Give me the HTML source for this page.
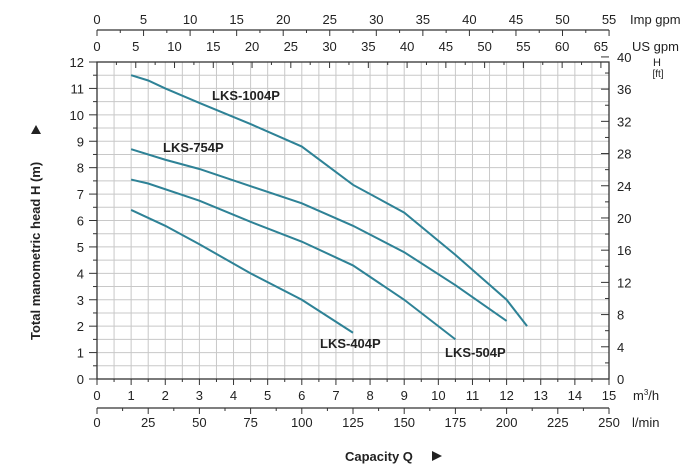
<!DOCTYPE html>
<html><head><meta charset="utf-8"><style>
html,body{margin:0;padding:0;background:#fff;width:700px;height:468px;overflow:hidden}
svg{display:block;font-family:"Liberation Sans",Arial,sans-serif}
</style></head><body>
<svg id="s" width="700" height="468" viewBox="0 0 700 468" xmlns="http://www.w3.org/2000/svg"></svg>
<script>
const s=document.getElementById('s');
const X0=97,X1=609,Y0=379,Y1=62;
const px=q=>X0+q*(X1-X0)/15, py=h=>Y0-h*(Y0-Y1)/12;
let o='';
// grid
for(let i=1;i<30;i++){const x=px(i*0.5);o+=`<line x1="${x}" y1="${Y1}" x2="${x}" y2="${Y0}" stroke="#c8c8c8" stroke-width="1"/>`;}
for(let i=1;i<24;i++){const y=py(i*0.5);o+=`<line x1="${X0}" y1="${y}" x2="${X1}" y2="${y}" stroke="#c8c8c8" stroke-width="1"/>`;}
o+=`<rect x="${X0}" y="${Y1}" width="${X1-X0}" height="${Y0-Y1}" fill="none" stroke="#333" stroke-width="1.3"/>`;
// left axis
for(let i=0;i<=24;i++){const y=py(i*0.5);o+=`<line x1="${X0}" y1="${y}" x2="${X0-(i%2?4:8)}" y2="${y}" stroke="#333"/>`;if(i%2==0)o+=`<text x="84" y="${y+5}" font-size="13" text-anchor="end" fill="#222">${i/2}</text>`;}
// right axis ft
const pf=f=>Y0-f*0.3048*(Y0-Y1)/12;
for(let f=0;f<=40;f+=2){const y=pf(f);o+=`<line x1="${X1}" y1="${y}" x2="${X1-(f%4?4:8)}" y2="${y}" stroke="#333"/>`;if(f%4==0)o+=`<text x="617" y="${y+5}" font-size="13" fill="#222">${f}</text>`;}
o+=`<text x="657" y="66" font-size="11" text-anchor="middle" fill="#222">H</text><text x="658" y="77" font-size="10" text-anchor="middle" fill="#222">[ft]</text>`;
// bottom m3/h
for(let i=0;i<=30;i++){const x=px(i*0.5);o+=`<line x1="${x}" y1="${Y0}" x2="${x}" y2="${Y0+(i%2?3:6)}" stroke="#333"/>`;if(i%2==0)o+=`<text x="${x}" y="400" font-size="13" text-anchor="middle" fill="#222">${i/2}</text>`;}
o+=`<text x="633" y="400" font-size="13" fill="#222">m<tspan font-size="8" dy="-5">3</tspan><tspan dy="5">/h</tspan></text>`;
// l/min
const LY=408;o+=`<line x1="${X0}" y1="${LY}" x2="${X1}" y2="${LY}" stroke="#333" stroke-width="1.3"/>`;
for(let l=0;l<=250;l+=12.5){const x=px(l*0.06);o+=`<line x1="${x}" y1="${LY}" x2="${x}" y2="${LY+(l%25?3:6)}" stroke="#333"/>`;if(l%25==0)o+=`<text x="${x}" y="427" font-size="13" text-anchor="middle" fill="#222">${l}</text>`;}
o+=`<text x="632" y="427" font-size="13" fill="#222">l/min</text>`;
// US gpm on top border
for(let g=0;g<=65;g+=2.5){const x=px(g*0.22712);o+=`<line x1="${x}" y1="${Y1}" x2="${x}" y2="${Y1+(g%5?3:6)}" stroke="#333"/>`;if(g%5==0)o+=`<text x="${x}" y="51" font-size="13" text-anchor="middle" fill="#222">${g}</text>`;}
o+=`<text x="632" y="51" font-size="13" fill="#222">US gpm</text>`;
// Imp gpm
const IY=30;o+=`<line x1="${X0}" y1="${IY}" x2="${X1}" y2="${IY}" stroke="#333" stroke-width="1.3"/>`;
for(let g=0;g<=55;g+=2.5){const x=px(g*0.27276);o+=`<line x1="${x}" y1="${IY}" x2="${x}" y2="${IY+(g%5?3:6)}" stroke="#333"/>`;if(g%5==0)o+=`<text x="${x}" y="24" font-size="13" text-anchor="middle" fill="#222">${g}</text>`;}
o+=`<text x="630" y="24" font-size="13" fill="#222">Imp gpm</text>`;
// curves
const C=[
[[1,11.5],[1.5,11.3],[2,11],[3,10.45],[4.5,9.65],[6,8.8],[7.5,7.35],[9,6.3],[10.5,4.7],[12,3.0],[12.6,2.0]],
[[1,8.7],[2,8.3],[3,7.95],[4.5,7.3],[6,6.65],[7.5,5.8],[9,4.8],[10.5,3.55],[12,2.2]],
[[1,7.55],[1.5,7.4],[3,6.75],[4.5,5.95],[6,5.2],[7.5,4.3],[9,3.0],[10.5,1.5]],
[[1,6.4],[2,5.8],[3,5.1],[4.5,4.0],[6,3.0],[7.5,1.75]]];
for(const c of C)o+=`<polyline fill="none" stroke="#2e8296" stroke-width="2" points="${c.map(p=>px(p[0])+','+py(p[1])).join(' ')}"/>`;
const L=[["LKS-1004P",212,100],["LKS-754P",163,152],["LKS-404P",320,348],["LKS-504P",445,357]];
for(const l of L)o+=`<text x="${l[1]}" y="${l[2]}" font-size="13" font-weight="bold" fill="#222">${l[0]}</text>`;
o+=`<text x="345" y="461" font-size="13" font-weight="bold" fill="#222">Capacity Q</text><polygon points="432,451 442,456 432,461" fill="#222"/>`;
o+=`<text transform="translate(40,340) rotate(-90)" font-size="13" font-weight="bold" fill="#222">Total manometric head H (m)</text><polygon points="31,134 36,125 41,134" fill="#222"/>`;
s.innerHTML=o;
</script>
</body></html>
